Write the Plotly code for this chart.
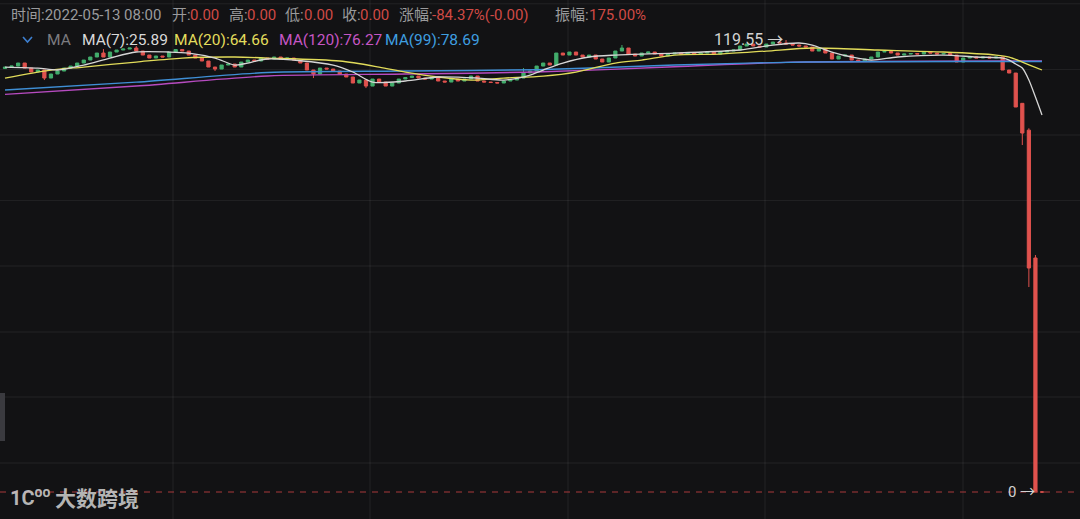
import plotly.graph_objects as go

# ---------------- data ----------------
close_a = [112.40, 112.66, 113.46, 112.13, 111.08, 111.61, 109.49, 110.55, 111.34, 112.13,
           112.66, 113.46, 114.25, 115.05, 116.10, 115.05, 116.37, 116.90, 117.16, 117.43,
           116.63, 115.57, 114.78, 115.31, 115.05, 116.37, 117.03, 116.63, 115.57, 114.78,
           113.99, 112.40, 111.87, 112.93, 113.19, 112.40, 113.72, 114.25, 113.99, 114.78,
           114.52]
close_b = [115.05, 114.52, 114.78, 114.25, 113.46, 111.61, 110.55, 112.13, 111.87, 111.34,
           110.55, 109.76, 108.17, 108.96, 107.37, 109.23, 108.43, 107.37, 108.17, 109.23,
           109.62, 110.02, 109.49, 109.23, 109.76, 108.70, 108.43, 109.23, 108.70, 109.23,
           110.02, 108.70, 108.43, 108.30, 108.17, 108.70, 108.96, 109.49, 110.81, 111.34,
           112.66]
close_c = [113.46, 112.93, 116.10, 115.57, 116.37, 115.57, 115.05, 115.57, 114.52, 113.72,
           114.78, 116.63, 117.43, 115.84, 115.31, 116.10, 116.37, 115.84, 115.31, 115.84,
           116.10, 115.84, 116.10, 115.84, 116.10, 116.37, 115.84, 116.37, 116.63, 116.90,
           117.96, 118.48, 117.96, 117.69, 118.48, 119.01, 118.75, 118.48, 118.22, 117.96,
           117.69]
close_d = [116.63, 117.16, 116.10, 114.52, 115.31, 115.57, 114.25, 113.99, 114.52, 115.05,
           116.37, 116.50, 116.10, 115.57, 115.84, 115.97, 115.84, 116.37, 116.10, 115.84,
           115.97, 115.57, 113.72, 114.78, 115.05, 114.78, 115.05, 114.78, 115.05, 111.61,
           110.81, 101.82, 94.94, 59.24, 0.00, 0.00]
first_open = 112.00
open_overrides = {155: 102.80, 156: 95.70, 157: 61.90}
high_wicks = {15: 117.16, 20: 117.96, 79: 112.13, 94: 118.22, 119: 119.55, 156: 96.20, 157: 62.68}
low_wicks = {6: 108.96, 32: 111.34, 47: 109.49, 55: 106.84, 155: 91.77, 156: 54.21}

ma7_idx = [0, 5, 8, 12, 16, 20, 25, 28, 32, 35, 37, 40, 50, 53, 56, 61, 66, 72, 76, 80, 82, 85,
           89, 93, 102, 112, 117, 121, 123, 126, 129, 132, 136, 143, 148, 152, 153, 154, 155,
           156, 157, 158]
ma7_val = [112.40, 112.13, 111.61, 112.93, 114.78, 116.37, 116.37, 116.10, 114.78, 112.93,
           113.46, 114.52, 112.93, 111.08, 108.43, 108.70, 109.76, 109.49, 108.96, 110.29,
           111.61, 113.46, 115.05, 115.57, 116.10, 116.90, 118.22, 118.75, 118.22, 116.37,
           115.05, 114.25, 115.05, 115.57, 115.05, 114.78, 114.25, 113.19, 112.13, 108.96,
           104.45, 99.71]
ma20_idx = [0, 7, 12, 20, 27, 35, 40, 51, 57, 61, 66, 71, 76, 82, 87, 93, 97, 102, 109, 116,
            123, 133, 143, 151, 153, 155, 158]
ma20_val = [109.49, 111.61, 112.40, 113.72, 114.78, 115.05, 114.78, 114.00, 112.40, 111.08,
            109.76, 108.96, 109.49, 110.02, 111.08, 113.46, 114.25, 115.57, 115.84, 116.63,
            117.43, 116.90, 116.37, 115.57, 115.05, 113.72, 111.61]
ma99_idx = [0, 20, 40, 61, 81, 102, 122, 158]
ma99_val = [106.31, 108.40, 110.95, 111.34, 111.70, 112.93, 113.72, 113.85]
ma120_idx = [0, 20, 40, 61, 81, 102, 119, 158]
ma120_val = [105.18, 107.37, 110.02, 110.55, 111.08, 112.48, 113.64, 113.99]

header_items = [("时间:2022-05-13 08:00", "label", 9), ("开:", "label", 170), ("0.00", "value", 188),
                ("高:", "label", 227), ("0.00", "value", 245), ("低:", "label", 283),
                ("0.00", "value", 302), ("收:", "label", 340), ("0.00", "value", 358),
                ("涨幅:", "label", 397), ("-84.37%(-0.00)", "value", 430),
                ("振幅:", "label", 553), ("175.00%", "value", 587)]
ma_items = [("MA", "#7c7c80", 45), ("MA(7):25.89", "#d9d9d9", 80), ("MA(20):64.66", "#e3dd5c", 172),
            ("MA(120):76.27", "#c656c4", 277), ("MA(99):78.69", "#3f9fe0", 383)]

# ---------------- build ----------------
closes = close_a + close_b + close_c + close_d
opens = [first_open] + closes[:-1]
for k, v in open_overrides.items():
    opens[k] = v
highs = [max(o, c) for o, c in zip(opens, closes)]
lows = [min(o, c) for o, c in zip(opens, closes)]
for k, v in high_wicks.items():
    highs[k] = max(highs[k], v)
for k, v in low_wicks.items():
    lows[k] = min(lows[k], v)
N = len(closes)
xs = list(range(N))

W, H = 1080, 519
spacing = (1042 - 5) / (N - 1)
x0 = -5 / spacing
x1 = x0 + W / spacing
ppu = (492 - 40) / 119.55
ymin = -(H - 492) / ppu
ymax = ymin + H / ppu

BG = "#121214"
RED = "#e0524e"
GREEN = "#43ad6c"

fig = go.Figure()
fig.add_trace(go.Candlestick(
    x=xs, open=opens, high=highs, low=lows, close=closes,
    increasing=dict(line=dict(color=GREEN, width=1), fillcolor=GREEN),
    decreasing=dict(line=dict(color=RED, width=1), fillcolor=RED),
    whiskerwidth=0, hoverinfo="skip", showlegend=False))

for idx, val, col, w in [(ma120_idx, ma120_val, "#b64bc0", 1.4),
                         (ma99_idx, ma99_val, "#3f8fd6", 1.4),
                         (ma20_idx, ma20_val, "#e2dc5a", 1.3),
                         (ma7_idx, ma7_val, "#d6d6d6", 1.3)]:
    fig.add_trace(go.Scatter(x=idx, y=val, mode="lines",
                             line=dict(color=col, width=w, shape="spline", smoothing=0.8),
                             hoverinfo="skip", showlegend=False))

shapes = []
grid_col = "rgba(255,255,255,0.07)"
for gx in [173, 370, 568, 765, 963]:
    shapes.append(dict(type="line", xref="paper", yref="paper", x0=gx / W, x1=gx / W, y0=0, y1=1,
                       line=dict(color=grid_col, width=1), layer="below"))
for gy in [3.8, 69.4, 135, 200.6, 266, 332, 397, 463]:
    shapes.append(dict(type="line", xref="paper", yref="paper", x0=0, x1=1, y0=1 - gy / H, y1=1 - gy / H,
                       line=dict(color=grid_col, width=1), layer="below"))
# last price dashed line at 0
shapes.append(dict(type="line", xref="paper", yref="y", x0=0, x1=1, y0=closes[-1], y1=closes[-1],
                   line=dict(color="#a8393a", width=1.2, dash="6px,6px")))
# left scroll tab
shapes.append(dict(type="rect", xref="paper", yref="paper", x0=0, x1=5 / W, y0=1 - 441 / H, y1=1 - 393 / H,
                   fillcolor="#3a3a3f", line=dict(width=0)))
# MA chevron
shapes.append(dict(type="path", xref="paper", yref="paper",
                   path=f"M {23/W},{1-37/H} L {27.5/W},{1-42/H} L {32/W},{1-37/H}",
                   line=dict(color="#3d7fd0", width=1.6)))

annotations = []
FONT = "Roboto, 'Noto Sans CJK SC', sans-serif"
for txt, kind, px in header_items:
    annotations.append(dict(xref="paper", yref="paper", x=px / W, y=1 - 15 / H, xanchor="left",
                            yanchor="middle", text=txt, showarrow=False,
                            font=dict(family=FONT, size=15, color="#9a9a9c" if kind == "label" else "#cf4a45")))
for txt, col, px in ma_items:
    annotations.append(dict(xref="paper", yref="paper", x=px / W, y=1 - 40 / H, xanchor="left",
                            yanchor="middle", text=txt, showarrow=False,
                            font=dict(family=FONT, size=15.5, color=col)))
hi_idx = max(range(N), key=lambda i: highs[i])
annotations.append(dict(x=hi_idx, y=highs[hi_idx], xref="x", yref="y", xanchor="right", yanchor="middle",
                        xshift=-1, yshift=1, text="119.55 →", showarrow=False,
                        font=dict(family=FONT, size=16, color="#d2d2d2")))
annotations.append(dict(x=N - 1, y=closes[-1], xref="x", yref="y", xanchor="right", yanchor="middle",
                        xshift=-5, text="0 →", showarrow=False,
                        font=dict(family=FONT, size=15, color="#d2d2d2")))
# watermark
annotations.append(dict(xref="paper", yref="paper", x=8 / W, y=1 - 497 / H, xanchor="left", yanchor="middle",
                        text="<b>1C<sup>oo</sup></b>", showarrow=False,
                        font=dict(family=FONT, size=20, color="rgba(210,210,210,0.85)")))
annotations.append(dict(xref="paper", yref="paper", x=53 / W, y=1 - 497 / H, xanchor="left", yanchor="middle",
                        text="<b>大数跨境</b>", showarrow=False,
                        font=dict(family="'Noto Sans CJK SC', sans-serif", size=21, color="rgba(210,210,210,0.85)")))

fig.update_layout(
    width=W, height=H, margin=dict(l=0, r=0, t=0, b=0),
    paper_bgcolor=BG, plot_bgcolor=BG,
    xaxis=dict(range=[x0, x1], visible=False, rangeslider=dict(visible=False), fixedrange=True),
    yaxis=dict(range=[ymin, ymax], visible=False, fixedrange=True),
    shapes=shapes, annotations=annotations, showlegend=False, hovermode=False,
)
fig.write_html("out.html", config={"displayModeBar": False},
               post_script="document.body.style.margin='0';document.body.style.overflow='hidden';document.body.style.background='#121214';")
